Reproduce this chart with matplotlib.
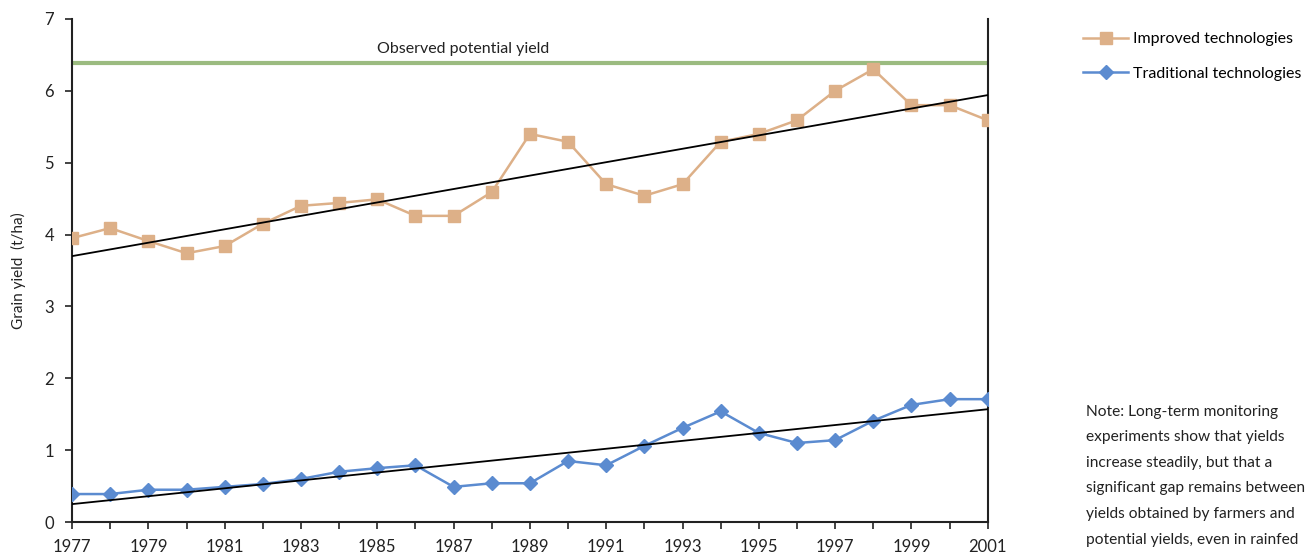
import numpy as np
import matplotlib
matplotlib.use('Agg')
import matplotlib.pyplot as plt

plt.rcParams['font.family'] = ['Lato', 'DejaVu Sans']

years = list(range(1977, 2002))
improved = [3.95, 4.09, 3.91, 3.74, 3.84, 4.15, 4.40, 4.44, 4.49, 4.26, 4.26, 4.59,
            5.40, 5.29, 4.70, 4.54, 4.70, 5.29, 5.40, 5.59, 6.00, 6.30, 5.80, 5.80, 5.59]
traditional = [0.39, 0.39, 0.45, 0.45, 0.49, 0.53, 0.60, 0.70, 0.75, 0.79, 0.49, 0.54,
               0.54, 0.85, 0.79, 1.06, 1.31, 1.54, 1.24, 1.10, 1.14, 1.41, 1.63, 1.71, 1.71]
improved_trend = [3.70, 5.94]      # trend line ends, 1977 and 2001
traditional_trend = [0.25, 1.57]
potential_yield = 6.39

fig = plt.figure(figsize=(13.1, 5.56), dpi=100)
ax = fig.add_axes([0.055, 0.061, 0.699, 0.905])

ax.axhline(potential_yield, color='#9bbb80', linewidth=3, zorder=1)
ax.text(1985, potential_yield + 0.1, 'Observed potential yield', ha='left', va='bottom',
        fontsize=11.5, color='#222222')

ax.plot(years, improved, color='#ddb088', marker='s', markersize=8, linewidth=1.8,
        label='Improved technologies', zorder=3)
ax.plot(years, traditional, color='#5b8bd0', marker='D', markersize=7, linewidth=1.8,
        label='Traditional technologies', zorder=3)
ax.plot([years[0], years[-1]], improved_trend, color='black', linewidth=1.3, zorder=4)
ax.plot([years[0], years[-1]], traditional_trend, color='black', linewidth=1.3, zorder=4)

ax.set_xlim(1977, 2001)
ax.set_ylim(0, 7)
ax.set_xticks(years)
ax.set_xticklabels([str(y) if (y - 1977) % 2 == 0 else '' for y in years])
ax.set_yticks(range(0, 8))
ax.tick_params(axis='both', direction='out', length=5, width=1.2, labelsize=12,
               colors='#222222')
ax.tick_params(axis='x', pad=7)
ax.tick_params(axis='y', pad=8)
for s in ['left', 'bottom', 'right']:
    ax.spines[s].set_linewidth(1.5)
    ax.spines[s].set_color('#222222')
ax.spines['top'].set_visible(False)
ax.set_ylabel('Grain yield  (t/ha)', fontsize=11, color='#222222', labelpad=13)

fig.legend(loc='upper left', bbox_to_anchor=(0.827, 0.942), frameon=False, fontsize=11.5,
           handlelength=2.8, handletextpad=0.3, labelspacing=1.25,
           borderpad=0, borderaxespad=0)

note = ('Note: Long-term monitoring\nexperiments show that yields\nincrease steadily, but that a\n'
        'significant gap remains between\nyields obtained by farmers and\n'
        'potential yields, even in rainfed')
fig.text(0.829, 0.272, note, ha='left', va='top', fontsize=11.2, linespacing=2.05,
         color='#222222')

fig.savefig('out.png', dpi=100)
